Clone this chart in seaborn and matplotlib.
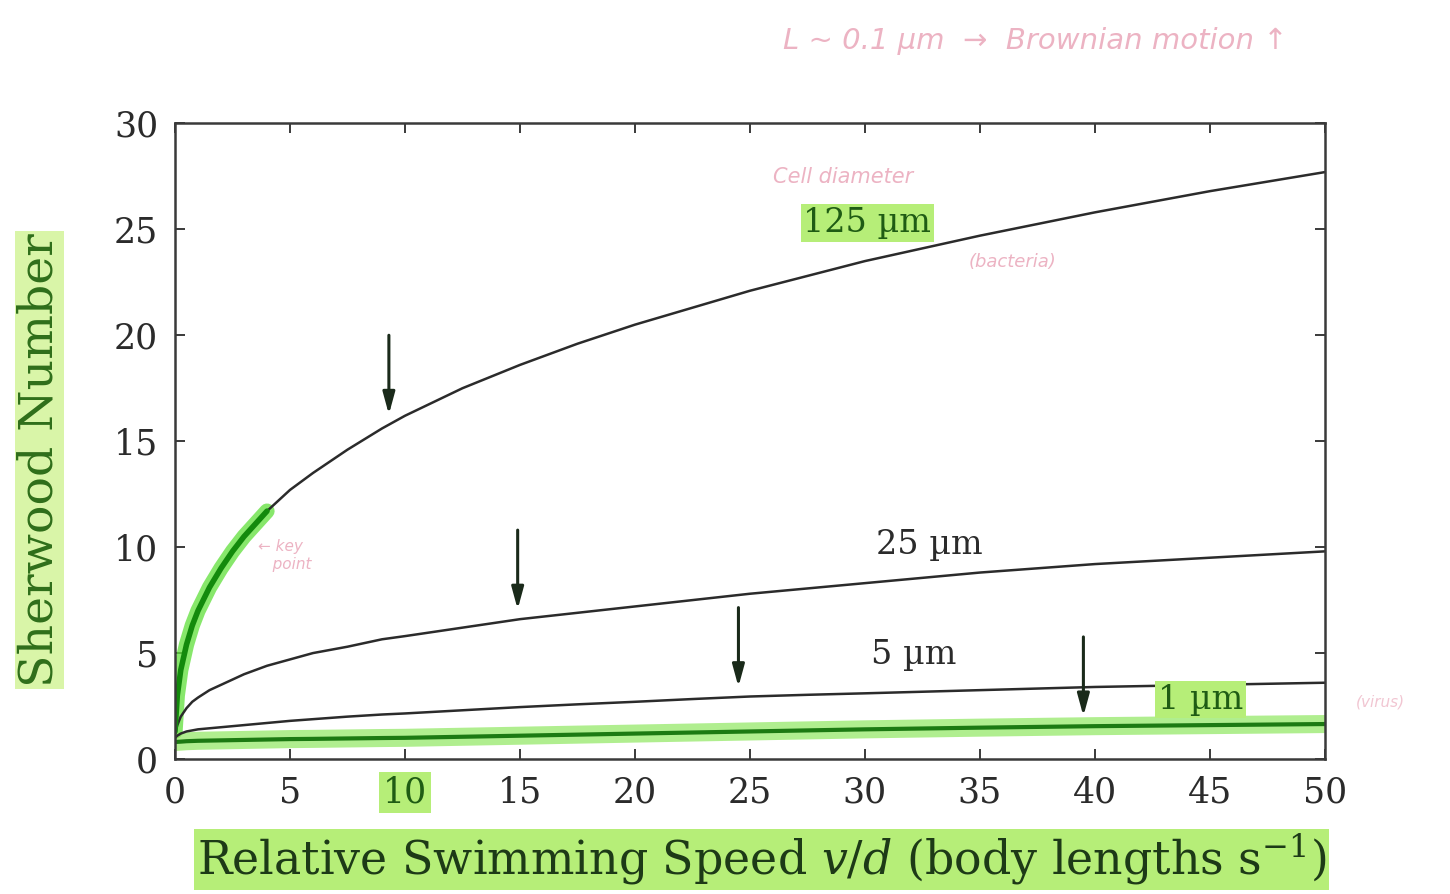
import numpy as np
import pandas as pd
import matplotlib
matplotlib.use("Agg")
import matplotlib.pyplot as plt
import seaborn as sns

# ---- data ----
speed = [0, 0.1, 0.25, 0.5, 0.75, 1, 1.5, 2, 2.5, 3, 3.5, 4, 5, 6, 7.5, 9, 10,
         12.5, 15, 17.5, 20, 22.5, 25, 27.5, 30, 35, 40, 45, 50]
sh_125 = [1.3, 3.0, 4.2, 5.4, 6.3, 7.0, 8.1, 9.0, 9.8, 10.5, 11.1, 11.7, 12.7, 13.5,
          14.6, 15.6, 16.2, 17.5, 18.6, 19.6, 20.5, 21.3, 22.1, 22.8, 23.5, 24.7,
          25.8, 26.8, 27.7]
sh_25 = [1.2, 1.6, 2.0, 2.4, 2.7, 2.9, 3.25, 3.5, 3.75, 4.0, 4.2, 4.4, 4.7, 5.0,
         5.3, 5.65, 5.8, 6.2, 6.6, 6.9, 7.2, 7.5, 7.8, 8.05, 8.3, 8.8, 9.2, 9.5, 9.8]
sh_5 = [1.0, 1.1, 1.2, 1.3, 1.35, 1.4, 1.45, 1.5, 1.55, 1.6, 1.65, 1.7, 1.8, 1.88,
        2.0, 2.1, 2.15, 2.3, 2.45, 2.58, 2.7, 2.83, 2.95, 3.03, 3.1, 3.25, 3.4, 3.5, 3.6]
sh_1 = [0.8, 0.81, 0.82, 0.84, 0.85, 0.86, 0.87, 0.88, 0.89, 0.9, 0.91, 0.92, 0.94,
        0.95, 0.97, 0.99, 1.0, 1.05, 1.1, 1.15, 1.2, 1.25, 1.3, 1.35, 1.4, 1.48,
        1.55, 1.6, 1.65]
sizes = ["125 µm", "25 µm", "5 µm", "1 µm"]
arrow_x = [9.3, 14.9, 24.5, 39.5]
label_x = [30.1, 32.8, 32.1, 44.6]
label_y = [25.3, 10.1, 4.9, 2.8]
x_ticks = [0, 5, 10, 15, 20, 25, 30, 35, 40, 45, 50]
y_ticks = [0, 5, 10, 15, 20, 25, 30]

series = [sh_125, sh_25, sh_5, sh_1]
df = pd.DataFrame({
    "speed": speed * 4,
    "sh": sh_125 + sh_25 + sh_5 + sh_1,
    "size": sum([[s] * len(speed) for s in sizes], []),
})

sns.set_theme(style="ticks")
plt.rcParams["font.family"] = ["DejaVu Serif", "DejaVu Sans"]
plt.rcParams["mathtext.fontset"] = "dejavuserif"

HL = "#b6ee78"      # highlighter green
DG = "#1f5c14"      # dark green ink
INK = "#2b2b2b"
PINK = "#e8a0b4"

fig = plt.figure(figsize=(14.5, 8.94), dpi=100)
ax = fig.add_axes([0.1207, 0.151, 0.793, 0.711])

# highlighter strokes beneath curves
hl125 = df[(df["size"] == "125 µm") & (df["speed"] <= 4)]
sns.lineplot(data=hl125, x="speed", y="sh", ax=ax, color="#5fe03a", lw=11,
             alpha=0.75, solid_capstyle="round", legend=False, estimator=None)
hl1 = df[df["size"] == "1 µm"]
sns.lineplot(data=hl1, x="speed", y="sh", ax=ax, color="#8fe860", lw=13,
             alpha=0.7, legend=False, estimator=None)

# main curves
sns.lineplot(data=df[df["size"] != "1 µm"], x="speed", y="sh", hue="size",
             palette={"125 µm": INK, "25 µm": INK, "5 µm": INK},
             ax=ax, lw=1.8, legend=False, estimator=None)
sns.lineplot(data=hl125, x="speed", y="sh", ax=ax, color="#138a0c", lw=4,
             legend=False, estimator=None)
sns.lineplot(data=hl1, x="speed", y="sh", ax=ax, color="#1c7a12", lw=3,
             legend=False, estimator=None)

# arrows
for xa, ys in zip(arrow_x, series):
    tip = np.interp(xa, speed, ys) + 0.35
    ax.annotate("", xy=(xa, tip), xytext=(xa, tip + 4.0),
                arrowprops=dict(arrowstyle="-|>,head_length=1.1,head_width=0.3",
                                color="#1a2a1a", lw=2.2))

# curve labels
for lab, lx, ly in zip(sizes, label_x, label_y):
    hl = lab in ("125 µm", "1 µm")
    ax.text(lx, ly, lab, ha="center", va="center", fontsize=24,
            color=DG if hl else INK,
            bbox=dict(boxstyle="square,pad=0.08", fc=HL, ec="none") if hl else None)

ax.set_xlim(0, 50)
ax.set_ylim(0, 30)
ax.set_xticks(x_ticks)
ax.set_yticks(y_ticks)
ax.tick_params(direction="in", length=7, width=1.3, top=True, right=True,
               labelsize=25, colors=INK, pad=12)
for lbl in ax.get_xticklabels():
    if lbl.get_text() == "10":
        lbl.set_color(DG)
        lbl.set_bbox(dict(boxstyle="square,pad=0.1", fc=HL, ec="none"))
for sp in ax.spines.values():
    sp.set_linewidth(1.8)
    sp.set_color("#3a3a3a")

ax.set_xlabel(r"Relative Swimming Speed $v/d$ (body lengths s$^{-1}$)",
              fontsize=33, color="#1d3a17",
              bbox=dict(boxstyle="square,pad=0.06", fc=HL, ec="none"))
ax.xaxis.set_label_coords(0.51, -0.115)
ax.set_ylabel("Sherwood Number", fontsize=34, color="#2f6e1a",
              bbox=dict(boxstyle="square,pad=0.04", fc="#d9f5a8", ec="none"))
ax.yaxis.set_label_coords(-0.098, 0.47)

# faint handwritten notes
fig.text(0.54, 0.945, "L ~ 0.1 µm  →  Brownian motion ↑", fontsize=21,
         color=PINK, style="italic", family="DejaVu Sans", alpha=0.8)
ax.text(26, 27.2, "Cell diameter", fontsize=15, color=PINK, style="italic",
        family="DejaVu Sans", alpha=0.8)
ax.text(34.5, 23.2, "(bacteria)", fontsize=13, color=PINK, style="italic",
        family="DejaVu Sans", alpha=0.8)
ax.text(3.6, 9.6, "← key\n   point", fontsize=11, color=PINK, style="italic",
        family="DejaVu Sans", alpha=0.8, va="center")
fig.text(0.935, 0.21, "(virus)", fontsize=11, color=PINK, style="italic",
         family="DejaVu Sans", alpha=0.6)

fig.savefig("out.png", dpi=100)
